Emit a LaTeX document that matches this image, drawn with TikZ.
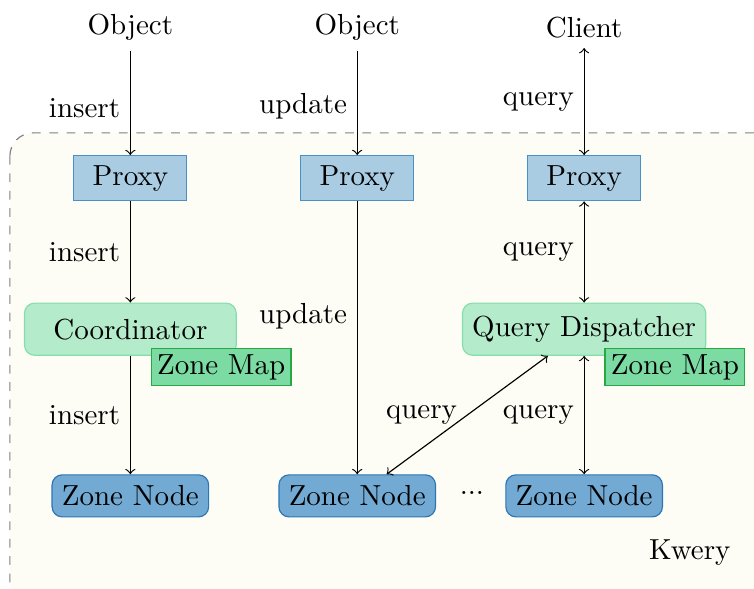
\documentclass[tikz,border=0pt]{standalone}
\usetikzlibrary{positioning}

\definecolor{proxyfill}{HTML}{A9CCE3}
\definecolor{proxyline}{HTML}{4A90C8}
\definecolor{zonefill}{HTML}{73AAD3}
\definecolor{zoneline}{HTML}{2E75B6}
\definecolor{coordfill}{HTML}{B3EBCB}
\definecolor{coordline}{HTML}{86DDAC}
\definecolor{mapfill}{HTML}{7BDBA2}
\definecolor{mapline}{HTML}{28A745}
\definecolor{kweryfill}{HTML}{FDFDF5}

\tikzset{
    proxy/.style={draw=proxyline, fill=proxyfill, minimum width=39pt, minimum height=15pt},
    coordinator/.style={draw=coordline, fill=coordfill, rounded corners=3.5pt, minimum width=73pt, minimum height=18pt},
    zonemap/.style={draw=mapline, fill=mapfill, inner sep=2pt},
    zonenode/.style={draw=zoneline, fill=zonefill, rounded corners=3.5pt, minimum width=54pt, minimum height=14.5pt},
    lbl/.style={left},
}

\begin{document}
\begin{tikzpicture}
        \useasboundingbox (0,0) rectangle (9.139,-7.127);

        % the Kwery cluster
        \draw[dashed, gray, fill=kweryfill, rounded corners=8pt] (0.12,-1.61) rectangle (9.5,-7.5);
        \node (kwery) at (8.36,-6.70) {Kwery};

        \node (obj1) at (1.58,-0.33) {Object};
        \node (obj2) at (4.33,-0.33) {Object};
        \node (client) at (7.08,-0.33) {Client};

        \node[proxy] (p1) at (1.58,-2.16) {Proxy};
        \node[proxy] (p2) at (4.33,-2.16) {Proxy};
        \node[proxy] (p3) at (7.08,-2.16) {Proxy};

        \node[coordinator] (coord) at (1.58,-3.99) {Coordinator};
        \node[coordinator] (qd) at (7.08,-3.99) {Query Dispatcher};
        \node[zonemap] (zm1) at (2.68,-4.45) {Zone Map};
        \node[zonemap] (zm2) at (8.18,-4.45) {Zone Map};

        \node[zonenode] (zn1) at (1.58,-6.01) {Zone Node};
        \node[zonenode] (zn2) at (4.33,-6.01) {Zone Node};
        \node[zonenode] (zn3) at (7.08,-6.01) {Zone Node};
        \node (dots) at (5.72,-5.98) {...};

        % insert path
        \draw[->] (obj1) -- node[lbl, pos=0.55] {insert} (p1);
        \draw[->] (p1) -- node[lbl] {insert} (coord);
        \draw[->] (coord) -- node[lbl] {insert} (zn1);

        % update path
        \draw[->] (obj2) -- node[lbl, pos=0.53] {update} (p2);
        \draw[->] (p2) -- node[lbl, pos=0.42] {update} (zn2);

        % query path
        \draw[<->] (client) -- node[lbl] {query} (p3);
        \draw[<->] (p3) -- node[lbl] {query} (qd);
        \draw[<->] (qd) -- node[lbl] {query} (zn3);
        \draw[<->] (zn2) -- node[lbl] {query} (qd);
    \end{tikzpicture}
\end{document}
